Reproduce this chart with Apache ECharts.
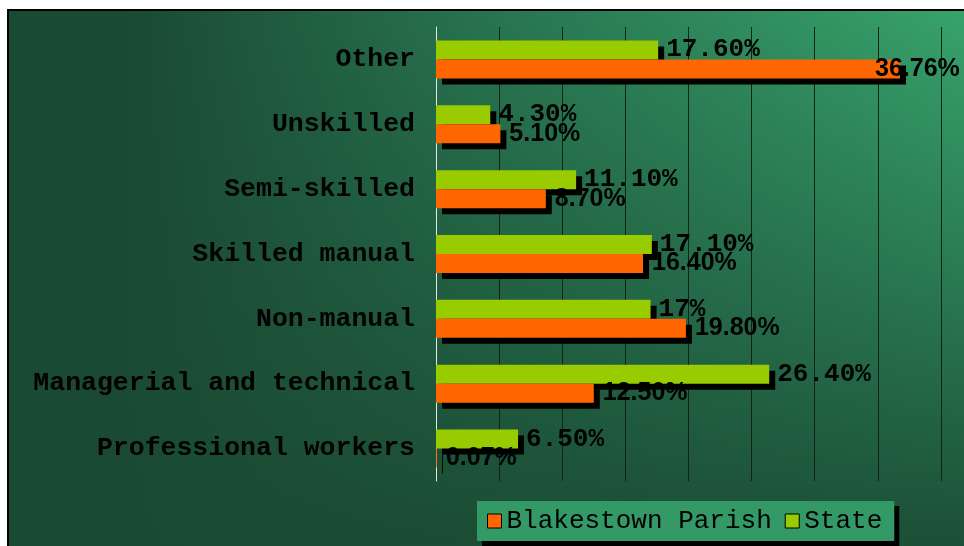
<!DOCTYPE html>
<html>
<head>
<meta charset="utf-8">
<script src="https://cdn.jsdelivr.net/npm/echarts@6/dist/echarts.min.js"></script>
<style>
html, body { margin: 0; padding: 0; background: #fff; }
#chart { width: 964px; height: 546px; }
</style>
</head>
<body>
<div id="chart"></div>
<script>
/* data, bottom to top */
var categories = ['Professional workers', 'Managerial and technical', 'Non-manual', 'Skilled manual', 'Semi-skilled', 'Unskilled', 'Other'];
var parish = [0.07, 12.5, 19.8, 16.4, 8.7, 5.1, 36.76];
var state = [6.5, 26.4, 17, 17.1, 11.1, 4.3, 17.6];
var parishLabels = ['0.07%', '12.50%', '19.80%', '16.40%', '8.70%', '5.10%', '36.76%'];
var stateLabels = ['6.50%', '26.40%', '17%', '17.10%', '11.10%', '4.30%', '17.60%'];

var chart = echarts.init(document.getElementById('chart'));

var parishMax = Math.max.apply(null, parish);
var parishData = parish.map(function (v) {
	// the widest label is pulled back so it stays inside the frame
	if (v === parishMax) return { value: v, label: { offset: [-34, 0] } };
	return v;
});

var barShadow = { shadowColor: '#000', shadowBlur: 0, shadowOffsetX: 6, shadowOffsetY: 6 };

var option = {
	animation: false,
	graphic: [
		{
			type: 'rect', z: -20, silent: true,
			shape: { x: 8, y: 10, width: 1000, height: 580 },
			style: {
				fill: { type: 'linear', x: 0, y: 0, x2: 1, y2: 0, colorStops: [
					{ offset: 0, color: '#1a4a33' },
					{ offset: 0.12, color: '#1a4a33' },
					{ offset: 0.45, color: '#27714d' },
					{ offset: 0.95, color: '#37a26c' },
					{ offset: 1, color: '#37a26c' }
				] },
				stroke: '#000', lineWidth: 2
			}
		},
		{
			type: 'rect', z: -19, silent: true,
			shape: { x: 9, y: 11, width: 1000, height: 580 },
			style: {
				fill: { type: 'linear', x: 0, y: 0, x2: 0, y2: 1, colorStops: [
					{ offset: 0, color: 'rgba(26,74,51,0)' },
					{ offset: 0.5, color: 'rgba(26,74,51,0.5)' },
					{ offset: 0.9, color: 'rgba(26,74,51,0.92)' },
					{ offset: 1, color: 'rgba(26,74,51,0.95)' }
				] }
			}
		}
	],
	legend: {
		data: ['Blakestown Parish', 'State'],
		left: 477, top: 501,
		padding: [7, 12, 7, 10],
		itemWidth: 14, itemHeight: 14, itemGap: 13,
		icon: 'rect',
		itemStyle: { borderColor: '#000', borderWidth: 1, shadowBlur: 0, shadowOffsetX: 0, shadowOffsetY: 0, shadowColor: 'transparent' },
		backgroundColor: '#339966',
		borderWidth: 0,
		shadowColor: '#000', shadowBlur: 0, shadowOffsetX: 5, shadowOffsetY: 5,
		textStyle: { fontFamily: 'Liberation Mono', fontSize: 26, color: '#000' }
	},
	// the plot runs past the right edge of the window, as in the original
	grid: { left: 436, width: 568, top: 27, bottom: 65, containLabel: false, outerBoundsMode: 'none' },
	xAxis: {
		type: 'value', min: 0, max: 45, interval: 5,
		axisLine: { show: false }, axisTick: { show: false }, axisLabel: { show: false },
		splitLine: { lineStyle: { color: '#0d2418', width: 1 } }
	},
	yAxis: {
		type: 'category', data: categories,
		axisLine: { lineStyle: { color: '#e6e6e6', width: 1 } },
		axisTick: { show: false },
		axisLabel: { margin: 21, color: '#000', fontFamily: 'Liberation Mono', fontWeight: 'bold', fontSize: 26.5 }
	},
	series: [
		{
			name: 'State', type: 'bar', z: 2,
			data: state,
			barWidth: 19, barGap: '0%',
			itemStyle: Object.assign({ color: '#99cc00' }, barShadow),
			label: {
				show: true, position: 'right', distance: 8,
				formatter: function (p) { return stateLabels[p.dataIndex]; },
				color: '#000', fontFamily: 'Liberation Mono', fontWeight: 'bold', fontSize: 26
			}
		},
		{
			name: 'Blakestown Parish', type: 'bar', z: 3,
			data: parishData,
			barWidth: 19, barGap: '0%',
			itemStyle: Object.assign({ color: '#ff6600' }, barShadow),
			label: {
				show: true, position: 'right', distance: 9,
				formatter: function (p) { return parishLabels[p.dataIndex]; },
				color: '#000', fontFamily: 'Liberation Sans', fontWeight: 'bold', fontSize: 25
			}
		}
	]
};

chart.setOption(option);
</script>
</body>
</html>
